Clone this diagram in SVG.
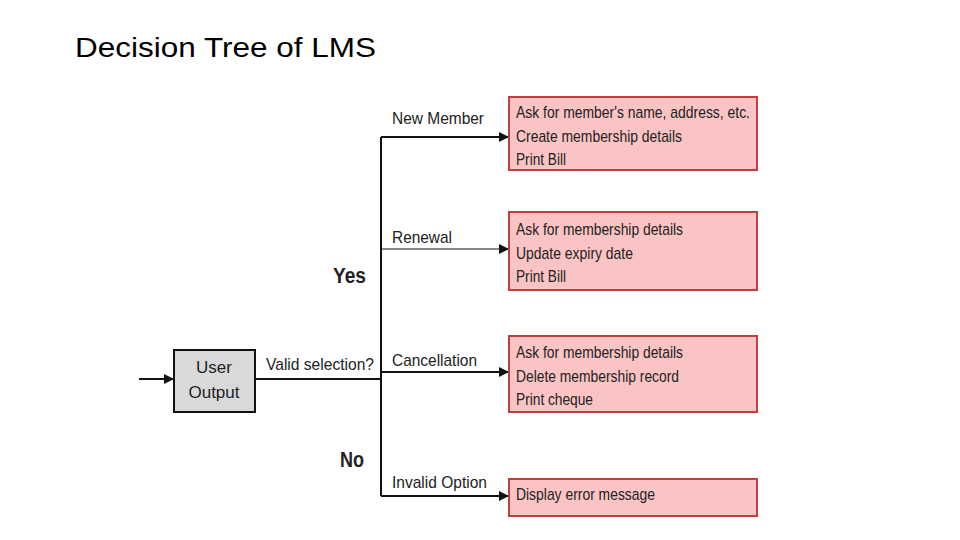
<svg xmlns="http://www.w3.org/2000/svg" width="960" height="540" viewBox="0 0 960 540">
<style>
text{font-family:"Liberation Sans",Arial,sans-serif;font-size:17px;fill:#222}
.box{fill:#fbc4c4;stroke:#c04040;stroke-width:2}
.ln{stroke:#111;stroke-width:2;fill:none}
.b{font-weight:bold;font-size:22px}
</style>
<defs><marker id="ah" markerWidth="10" markerHeight="10" refX="9" refY="5" orient="auto" markerUnits="userSpaceOnUse"><path d="M0,0 L10,5 L0,10 z" fill="#111"/></marker></defs>
<rect width="960" height="540" fill="#fff"/>
<text x="75" y="57" style="font-size:28px;fill:#000" textLength="301" lengthAdjust="spacingAndGlyphs">Decision Tree of LMS</text>
<g id="connectors">
<line class="ln" x1="139" y1="379" x2="173" y2="379" marker-end="url(#ah)"/>
<line class="ln" x1="255" y1="379" x2="381" y2="379"/>
<line class="ln" x1="381" y1="137" x2="381" y2="496"/>
<line class="ln" x1="381" y1="137" x2="508" y2="137" marker-end="url(#ah)"/>
<line class="ln" x1="381" y1="249" x2="508" y2="249" marker-end="url(#ah)" style="stroke-width:1.2"/>
<line class="ln" x1="381" y1="372" x2="508" y2="372" marker-end="url(#ah)"/>
<line class="ln" x1="381" y1="496" x2="508" y2="496" marker-end="url(#ah)"/>
<text x="266" y="370" textLength="108" lengthAdjust="spacingAndGlyphs">Valid selection?</text>
<text x="392" y="124" textLength="92" lengthAdjust="spacingAndGlyphs">New Member</text>
<text x="392" y="243" textLength="60" lengthAdjust="spacingAndGlyphs">Renewal</text>
<text x="392" y="366" textLength="85" lengthAdjust="spacingAndGlyphs">Cancellation</text>
<text x="392" y="488" textLength="95" lengthAdjust="spacingAndGlyphs">Invalid Option</text>
<text x="333" y="283" class="b" textLength="33" lengthAdjust="spacingAndGlyphs">Yes</text>
<text x="340" y="467" class="b" textLength="24" lengthAdjust="spacingAndGlyphs">No</text>
</g>
<g id="user-output">
<rect x="174" y="350" width="81" height="62" fill="#d9d9d9" stroke="#111" stroke-width="2"/>
<text x="214" y="373" text-anchor="middle">User</text>
<text x="214" y="398" text-anchor="middle">Output</text>
</g>
<g id="new-member">
<rect class="box" x="509" y="97" width="248" height="73"/>
<text x="516" y="118" textLength="234" lengthAdjust="spacingAndGlyphs">Ask for member's name, address, etc.</text>
<text x="516" y="142" textLength="166" lengthAdjust="spacingAndGlyphs">Create membership details</text>
<text x="516" y="165" textLength="50" lengthAdjust="spacingAndGlyphs">Print Bill</text>
</g>
<g id="renewal">
<rect class="box" x="509" y="212" width="248" height="78"/>
<text x="516" y="235" textLength="167" lengthAdjust="spacingAndGlyphs">Ask for membership details</text>
<text x="516" y="259" textLength="117" lengthAdjust="spacingAndGlyphs">Update expiry date</text>
<text x="516" y="282" textLength="50" lengthAdjust="spacingAndGlyphs">Print Bill</text>
</g>
<g id="cancellation">
<rect class="box" x="509" y="336" width="248" height="76"/>
<text x="516" y="358" textLength="167" lengthAdjust="spacingAndGlyphs">Ask for membership details</text>
<text x="516" y="382" textLength="163" lengthAdjust="spacingAndGlyphs">Delete membership record</text>
<text x="516" y="405" textLength="77" lengthAdjust="spacingAndGlyphs">Print cheque</text>
</g>
<g id="invalid">
<rect class="box" x="509" y="479" width="248" height="37"/>
<text x="516" y="500" textLength="139" lengthAdjust="spacingAndGlyphs">Display error message</text>
</g>
</svg>
